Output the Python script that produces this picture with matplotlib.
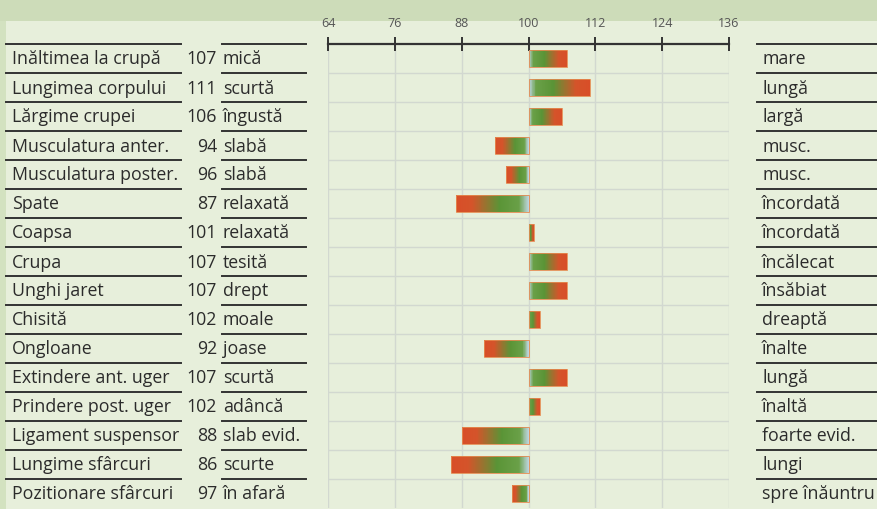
import matplotlib.pyplot as plt
import numpy as np
from matplotlib.colors import LinearSegmentedColormap
from matplotlib.transforms import blended_transform_factory

traits = ["Inăltimea la crupă", "Lungimea corpului", "Lărgime crupei", "Musculatura anter.",
          "Musculatura poster.", "Spate", "Coapsa", "Crupa", "Unghi jaret", "Chisită",
          "Ongloane", "Extindere ant. uger", "Prindere post. uger", "Ligament suspensor",
          "Lungime sfârcuri", "Pozitionare sfârcuri"]
values = [107, 111, 106, 94, 96, 87, 101, 107, 107, 102, 92, 107, 102, 88, 86, 97]
low_labels = ["mică", "scurtă", "îngustă", "slabă", "slabă", "relaxată", "relaxată", "tesită",
              "drept", "moale", "joase", "scurtă", "adâncă", "slab evid.", "scurte", "în afară"]
high_labels = ["mare", "lungă", "largă", "musc.", "musc.", "încordată", "încordată", "încălecat",
               "însăbiat", "dreaptă", "înalte", "lungă", "înaltă", "foarte evid.", "lungi",
               "spre înăuntru"]
ticks = [64, 76, 88, 100, 112, 124, 136]

plt.rcParams['font.family'] = ['Open Sans', 'DejaVu Sans']
W, H = 877, 510
bg = "#e7efdb"
txt = "#2b2b2b"

fig = plt.figure(figsize=(W / 100, H / 100), dpi=100, facecolor=bg)

# blurred photo strip at the top and on the left edge
strip = fig.add_axes([0, 1 - 22 / H, 1, 22 / H])
strip.set_facecolor("#cddcb9")
edge = fig.add_axes([0, 0, 6 / W, 1 - 22 / H])
edge.set_facecolor("#d3e2c0")
for a in (strip, edge):
    a.set_xticks([]); a.set_yticks([])
    for s in a.spines.values():
        s.set_visible(False)

ax = fig.add_axes([328 / W, 1 / H, (729 - 328) / W, (509 - 45) / H])
ax.set_facecolor(bg)
n = len(values)
ax.set_xlim(ticks[0], ticks[-1])
ax.set_ylim(n, 0)

cmap_bar = LinearSegmentedColormap.from_list(
    "g", [(0, "#bcd4dc"), (0.12, "#6aa048"), (0.4, "#5a9436"), (0.78, "#d4542a"), (1, "#d84e28")])
bar_h = 0.58
steps = 80
for i, v in enumerate(values):
    y0, y1 = i + 0.5 - bar_h / 2, i + 0.5 + bar_h / 2
    xs = np.linspace(100, v, steps + 1)
    c = np.linspace(0, 1, steps)[None, :]
    if v < 100:
        xs = xs[::-1]
        c = c[:, ::-1]
    ax.pcolormesh(xs, [y0, y1], c, cmap=cmap_bar, vmin=0, vmax=1,
                  shading="flat", antialiased=False, linewidth=0, zorder=3)
    ax.add_patch(plt.Rectangle((min(v, 100), y0), abs(v - 100), bar_h,
                               fill=False, ec="#e58a50", lw=0.6, zorder=4))

ax.set_xticks(ticks)
ax.set_yticks(np.arange(1, n))
ax.set_yticklabels([])
ax.tick_params(axis="y", length=0)
ax.grid(True, color="#d2d8d0", lw=1)
ax.set_axisbelow(True)
ax.xaxis.tick_top()
ax.tick_params(axis="x", direction="inout", length=10, width=1.4, color="#333333",
               labelsize=9, labelcolor="#555555", pad=6)
for k, s in ax.spines.items():
    s.set_visible(k == "top")
ax.spines["top"].set_linewidth(1.6)
ax.spines["top"].set_color("#333333")

tr = blended_transform_factory(fig.transFigure, ax.transData)
fs = 12.8
for i in range(n):
    y = i + 0.5
    fig.text(12 / W, y, traits[i], transform=tr, va="center", ha="left", fontsize=fs, color=txt)
    fig.text(217 / W, y, str(values[i]), transform=tr, va="center", ha="right", fontsize=fs, color=txt)
    fig.text(223 / W, y, low_labels[i], transform=tr, va="center", ha="left", fontsize=fs, color=txt)
    fig.text(762 / W, y, high_labels[i], transform=tr, va="center", ha="left", fontsize=fs, color=txt)

for i in range(n):
    for xa, xb in [(6, 181), (222, 306), (757, 877)]:
        fig.add_artist(plt.Line2D([xa / W, xb / W], [i, i], transform=tr,
                                  color="#333333", lw=1.4))

fig.savefig("out.png", dpi=100, facecolor=bg)
